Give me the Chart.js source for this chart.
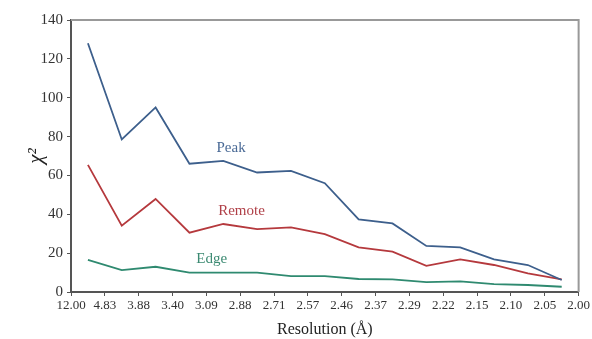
<!DOCTYPE html>
<html lang="en">
<head>
<meta charset="UTF-8">
<title>Chi-square vs resolution</title>
<style>
  html, body { margin: 0; padding: 0; background: #fff; }
  #wrap { width: 592px; height: 339px; }
</style>
</head>
<body>
<div id="wrap"><canvas id="myChart"></canvas></div>

<script src="https://cdn.jsdelivr.net/npm/chart.js@4.4.1/dist/chart.umd.min.js"></script>
<script>
// resolution bin edges (tick labels) and chi^2 per bin
var tickLabels = ['12.00','4.83','3.88','3.40','3.09','2.88','2.71','2.57','2.46','2.37','2.29','2.22','2.15','2.10','2.05','2.00'];
var peak   = [128, 78.5, 95, 66, 67.5, 61.5, 62.3, 56, 37.4, 35.3, 23.7, 23, 16.8, 13.9, 6.2];
var remote = [65.4, 34.1, 47.9, 30.5, 35, 32.4, 33.3, 29.8, 23, 20.8, 13.5, 16.8, 13.9, 9.6, 6.5];
var edge   = [16.5, 11.3, 13, 10, 10, 10, 8.2, 8.2, 6.7, 6.5, 5.1, 5.5, 4.1, 3.6, 2.7];

// series name labels drawn inside the plot: [text, x, y, colour]
var seriesLabels = [
    ['Peak',   4.3, 74, '#4a6a96'],
    ['Remote', 4.35, 41.5, '#b04048'],
    ['Edge',   3.7, 17, '#3c8a72']
];

function f_points(arr){
    var pts = [];
    for(var i=0; i<arr.length; i++){
        pts.push({x: i + 0.5, y: arr[i]});   // plotted at bin centre
    }
    return pts;
}

var serif = "'Liberation Serif', 'DejaVu Serif', serif";
var axisColor = '#555';

// grey frame on top/right + series labels
var framePlugin = {
    id: 'frame',
    afterDatasetsDraw: function(chart){
        var c = chart.ctx, a = chart.chartArea;
        c.save();
        c.strokeStyle = '#999';
        c.lineWidth = 2;
        c.beginPath();
        c.moveTo(a.left, a.top);
        c.lineTo(a.right, a.top);
        c.lineTo(a.right, a.bottom);
        c.stroke();

        c.font = "15px " + serif;
        c.textAlign = 'left';
        c.textBaseline = 'middle';
        var sx = chart.scales.x, sy = chart.scales.y;
        for(var i=0; i<seriesLabels.length; i++){
            var l = seriesLabels[i];
            c.fillStyle = l[3];
            c.fillText(l[0], sx.getPixelForValue(l[1]), sy.getPixelForValue(l[2]));
        }
        c.restore();
    }
};

const ctx = document.getElementById('myChart').getContext('2d');
const myChart = new Chart(ctx, {
    type: 'line',
    data: {
        datasets: [{
            label: 'Peak',
            data: f_points(peak),
            borderColor: '#3d5f8c',
            borderWidth: 1.8,
            pointRadius: 0,
            tension: 0
        },{
            label: 'Remote',
            data: f_points(remote),
            borderColor: '#b5393d',
            borderWidth: 1.8,
            pointRadius: 0,
            tension: 0
        },{
            label: 'Edge',
            data: f_points(edge),
            borderColor: '#2f8a70',
            borderWidth: 1.8,
            pointRadius: 0,
            tension: 0
        }]
    },
    options: {
        responsive: true,
        maintainAspectRatio: false,
        animation: false,
        layout: { padding: { left: 24, right: 13, top: 20, bottom: 0 } },
        plugins: {
            legend: { display: false },
            tooltip: { enabled: false }
        },
        scales: {
            x: {
                type: 'linear',
                min: 0,
                max: 15,
                afterFit: function(s){ s.height = 47; },
                afterBuildTicks: function(s){
                    s.ticks = tickLabels.map(function(t, i){ return {value: i}; });
                },
                ticks: {
                    autoSkip: false,
                    maxRotation: 0,
                    padding: 2,
                    color: '#333',
                    font: { family: serif, size: 13 },
                    callback: function(v){ return tickLabels[v]; }
                },
                grid: { drawOnChartArea: false, tickLength: 4, color: axisColor },
                border: { color: axisColor, width: 2 },
                title: {
                    display: true,
                    text: 'Resolution (\u00c5)',
                    color: '#222',
                    font: { family: serif, size: 16 },
                    padding: { top: 2, bottom: 0 }
                }
            },
            y: {
                min: 0,
                max: 140,
                afterFit: function(s){ s.width = 47; },
                ticks: {
                    stepSize: 20,
                    padding: 4,
                    color: '#333',
                    font: { family: serif, size: 15 }
                },
                grid: { drawOnChartArea: false, tickLength: 4, color: axisColor },
                border: { color: axisColor, width: 2 },
                title: {
                    display: true,
                    text: '\u03c7\u00b2',
                    color: '#222',
                    font: { family: serif, size: 21, style: 'italic' },
                    padding: { top: 0, bottom: 0 }
                }
            }
        }
    },
    plugins: [framePlugin]
});
</script>
</body>
</html>
